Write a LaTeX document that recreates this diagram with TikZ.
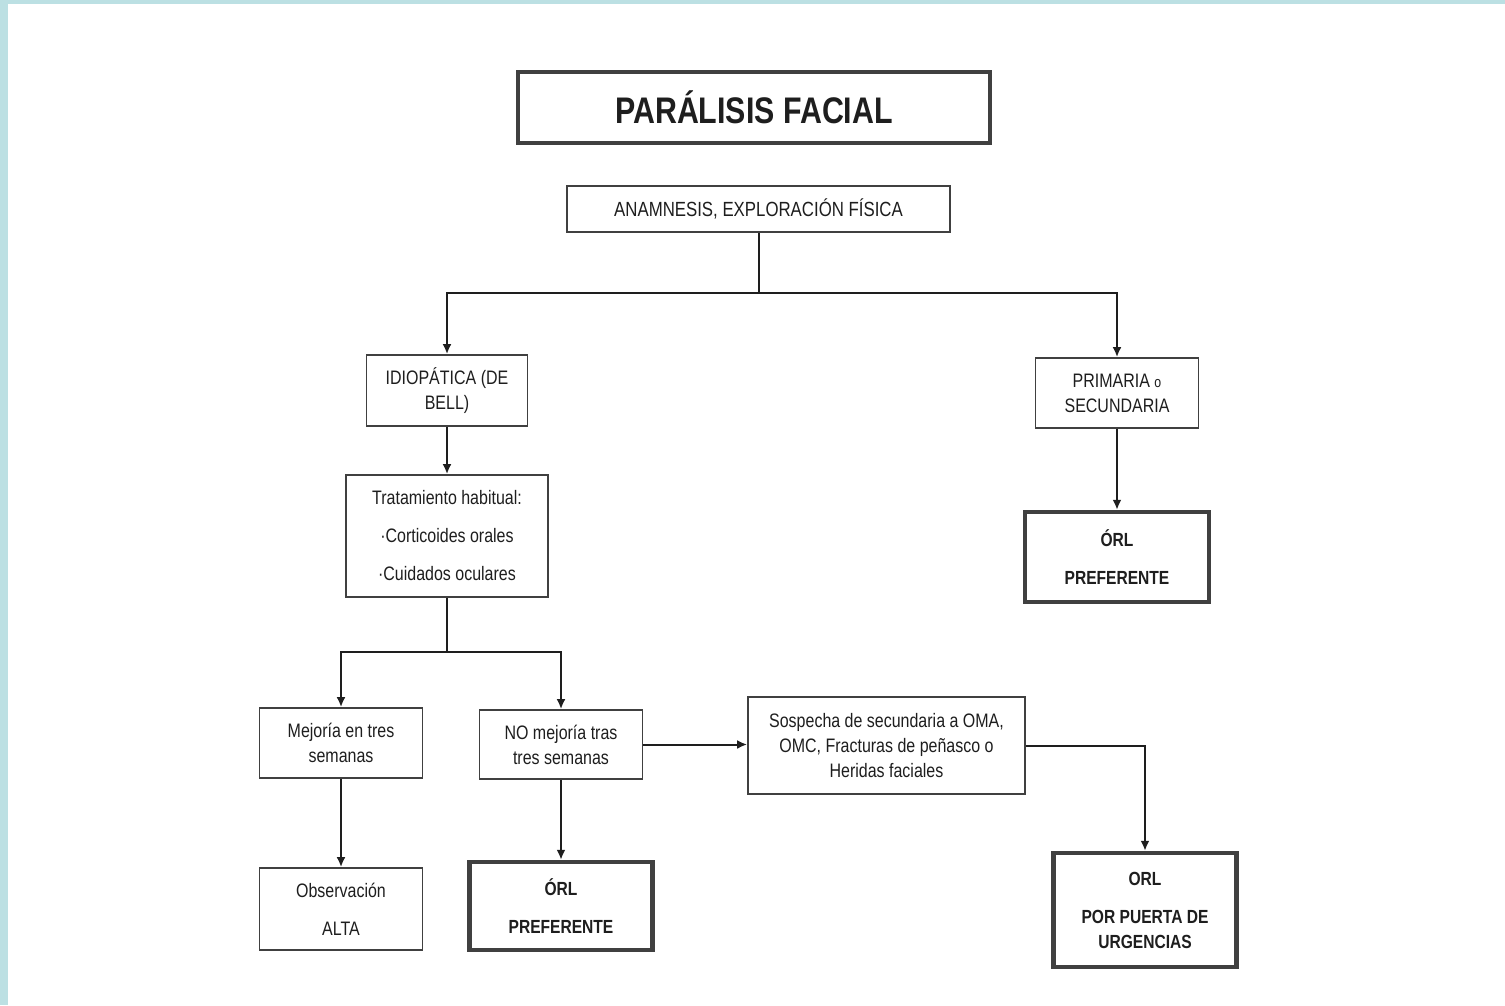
\documentclass[tikz,border=0pt]{standalone}
\usepackage{fontspec}
\setmainfont[FakeStretch=0.82]{Liberation Sans}
\usetikzlibrary{arrows.meta}
\definecolor{frameblue}{HTML}{BCE0E3}
\definecolor{ink}{HTML}{1E1E1E}
\begin{document}
\begin{tikzpicture}[x=1pt,y=-1pt,
  box/.style={draw=ink!85,line width=1.8pt,rectangle,inner sep=0pt,align=center,text=ink,
    font=\fontsize{19.5}{25}\selectfont},
  bigbox/.style={box,line width=4.5pt,font=\bfseries\fontsize{19}{25}\selectfont},
  conn/.style={draw=ink,line width=2pt},
  arr/.style={conn,-{Latex[length=10pt,width=9pt]}}]
\fill[frameblue] (0,0) rectangle (1505,1005);
\fill[white] (8,4) rectangle (1505,1005);
\useasboundingbox (0,0) rectangle (1505,1005);

\node[box,line width=4pt,minimum width=472pt,minimum height=71pt,
  font=\bfseries\fontsize{37}{40}\selectfont] (title) at (754,107.5) {PARÁLISIS FACIAL};
\node[box,minimum width=383pt,minimum height=46pt,font=\fontsize{20.5}{25}\selectfont] (anam) at (758.5,209) {ANAMNESIS, EXPLORACIÓN FÍSICA};
\node[box,minimum width=161pt,minimum height=71pt] (idio) at (447,390.5) {IDIOPÁTICA (DE\\BELL)};
\node[box,minimum width=202pt,minimum height=122pt] (trat) at (447,536) {Tratamiento habitual:\\[13pt]·Corticoides orales\\[13pt]·Cuidados oculares};
\node[box,minimum width=163pt,minimum height=70pt] (prim) at (1117,393) {PRIMARIA {\fontsize{15}{25}\selectfont o}\\SECUNDARIA};
\node[bigbox,minimum width=184pt,minimum height=90pt] (orlA) at (1117,557) {ÓRL\\[13pt]PREFERENTE};
\node[box,minimum width=163pt,minimum height=70pt] (mej) at (341,743) {Mejoría en tres\\semanas};
\node[box,minimum width=163pt,minimum height=69pt] (nomej) at (561,744.5) {NO mejoría tras\\tres semanas};
\node[box,minimum width=277pt,minimum height=97pt] (sosp) at (886.5,745.5) {Sospecha de secundaria a OMA,\\OMC, Fracturas de peñasco o\\Heridas faciales};
\node[box,minimum width=163pt,minimum height=82pt] (obs) at (341,909) {Observación\\[13pt]ALTA};
\node[bigbox,minimum width=183pt,minimum height=88pt] (orlB) at (561,906) {ÓRL\\[13pt]PREFERENTE};
\node[bigbox,minimum width=183pt,minimum height=114pt] (orlC) at (1145,910) {ORL\\[13pt]POR PUERTA DE\\URGENCIAS};

\coordinate (j1) at (758.5,293);
\coordinate (j2) at (447,652);
\draw[conn] (anam.south) -- (j1);
\draw[arr] (j1) -| (idio.north);
\draw[arr] (j1) -| (prim.north);
\draw[arr] (idio.south) -- (trat.north);
\draw[arr] (prim.south) -- (orlA.north);
\draw[conn] (trat.south) -- (j2);
\draw[arr] (j2) -| (mej.north);
\draw[arr] (j2) -| (nomej.north);
\draw[arr] (mej.south) -- (obs.north);
\draw[arr] (nomej.south) -- (orlB.north);
\draw[arr] (nomej.east) -- (nomej.east -| sosp.west);
\draw[arr] (sosp.east) -| (orlC.north);
\end{tikzpicture}
\end{document}
